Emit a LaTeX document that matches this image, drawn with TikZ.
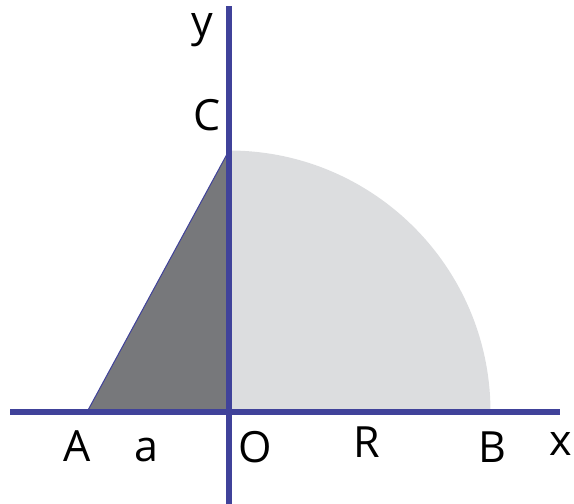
\documentclass[tikz,border=0pt]{standalone}
\usepackage{fontspec}
\setmainfont{Open Sans}
\definecolor{axisblue}{RGB}{64,66,154}
\definecolor{darkgr}{RGB}{119,120,123}
\definecolor{lightgr}{RGB}{220,221,223}
\begin{document}
\begin{tikzpicture}[x=1pt,y=-1pt,
  axis/.style={draw=axisblue,line width=5.8pt},
  lbl/.style={inner sep=0pt,anchor=base,font=\fontsize{43}{43}\selectfont}]
\useasboundingbox (0,0) rectangle (574,504);
\coordinate (O) at (229,412);
\coordinate (A) at (87,412);
\coordinate (C) at (229,150.5);
\coordinate (B) at (490.5,412);
\coordinate (xl) at (10,412);
\coordinate (xr) at (560,412);
\coordinate (yt) at (229,6);
\coordinate (yb) at (229,504);
% quarter disc
\fill[lightgr] (O) -- (B) arc[start angle=0,end angle=-90,radius=261.5] -- cycle;
% triangle
\fill[darkgr] (A) -- (C) -- (O) -- cycle;
\draw[axisblue,line width=1pt] (A) -- (C);
% axes
\draw[axis] (xl) -- (xr);
\draw[axis] (yt) -- (yb);
% labels
\node[lbl] (ly) at (202,36) {y};
\node[lbl] (lC) at (207,130) {C};
\node[lbl] (lA) at (77,461) {A};
\node[lbl] (la) at (146,461) {a};
\node[lbl] (lO) at (255,462) {O};
\node[lbl] (lR) at (367,457) {R};
\node[lbl] (lB) at (492,462) {B};
\node[lbl] (lx) at (561,455) {x};
\end{tikzpicture}
\end{document}
